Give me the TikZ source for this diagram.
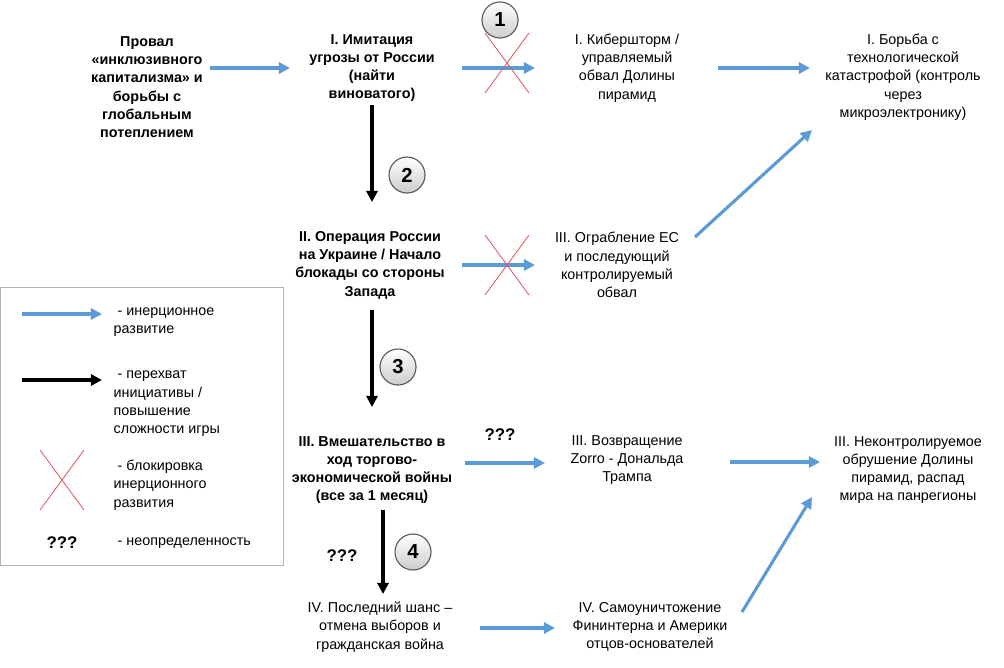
\documentclass[tikz,border=0pt]{standalone}
\usepackage{fontspec}
\setmainfont{Liberation Sans}
\usetikzlibrary{arrows.meta,calc}
\tikzset{
  txt/.style={align=center, font=\fontsize{10.2}{13}\selectfont, inner sep=1pt},
  bold/.style={txt, font=\fontsize{10.2}{13}\selectfont\bfseries},
  inert/.style={-{Triangle[length=8pt,width=8pt]}, line width=2.2pt, draw={rgb,255:red,91;green,155;blue,213}},
  initarrow/.style={-{Triangle[length=8pt,width=8pt]}, line width=2.6pt, draw=black},
  stepnum/.style={circle, draw=gray!70!black, thick, top color=white, bottom color=gray!40,
    minimum size=0.9cm, font=\Large\bfseries, inner sep=0pt},
  cross/.style={draw={rgb,255:red,220;green,90;blue,100}, line width=0.6pt},
  qq/.style={font=\large\bfseries},
  lgd/.style={align=left, anchor=west, font=\fontsize{10.2}{13}\selectfont, inner sep=1pt}
}
\newcommand{\blockx}[1]{\draw[cross] ($#1+(-22,-30)$) -- ($#1+(22,30)$);
  \draw[cross] ($#1+(-22,30)$) -- ($#1+(22,-30)$);}
\begin{document}
\begin{tikzpicture}[x=0.025cm,y=-0.025cm]
  \useasboundingbox (0,0) rectangle (1004,667);

  % main nodes
  \node[bold] (fail) at (147,87) {Провал\\«инклюзивного\\капитализма» и\\борьбы с\\глобальным\\потеплением};
  \node[bold] (imit) at (372,68) {I. Имитация\\угрозы от России\\(найти\\виноватого)};
  \node[txt] (cyber) at (627,68) {I. Кибершторм /\\управляемый\\обвал Долины\\пирамид};
  \node[txt] (tech) at (903,77) {I. Борьба с\\технологической\\катастрофой (контроль\\{}через\\микроэлектронику)};
  \node[bold] (oper) at (370,265) {II. Операция России\\на Украине / Начало\\блокады со стороны\\Запада};
  \node[txt] (rob) at (617,265) {III. Ограбление ЕС\\и последующий\\контролируемый\\обвал};
  \node[bold] (inter) at (372,470) {III. Вмешательство в\\ход торгово-\\экономической войны\\(все за 1 месяц)};
  \node[txt] (zorro) at (627,460) {III. Возвращение\\Zorro - Дональда\\Трампа};
  \node[txt] (uncon) at (908,470) {III. Неконтролируемое\\обрушение Долины\\пирамид, распад\\мира на панрегионы};
  \node[txt] (last) at (380,627) {IV. Последний шанс --\\отмена выборов и\\гражданская война};
  \node[txt] (self) at (650,627) {IV. Самоуничтожение\\Фининтерна и Америки\\отцов-основателей};

  % inertial development
  \draw[inert] (210,68) -- (290,68);
  \draw[inert] (462,68) -- (535,68);
  \draw[inert] (718,68) -- (810,68);
  \draw[inert] (462,265) -- (535,265);
  \draw[inert] (695,237) -- (812,130);
  \draw[inert] (465,463) -- (545,463);
  \draw[inert] (730,462) -- (820,462);
  \draw[inert] (480,628) -- (555,628);
  \draw[inert] (742,612) -- (812,497);

  % seizing initiative
  \draw[initarrow] (372,105) -- (372,202);
  \draw[initarrow] (372,310) -- (372,407);
  \draw[initarrow] (383,510) -- (383,594);

  % blocks
  \blockx{(507,63)}
  \blockx{(507,265)}

  % steps
  \node[stepnum] (s1) at (500,20) {1};
  \node[stepnum] (s2) at (407,175) {2};
  \node[stepnum] (s3) at (398,367) {3};
  \node[stepnum] (s4) at (413,552) {4};
  \node[qq] (q1) at (500,435) {???};
  \node[qq] (q2) at (342,556) {???};

  % legend
  \draw[gray!60] (0,287) rectangle (283,565);
  \draw[inert] (22,314) -- (102,314);
  \node[lgd] (l1) at (112,322) {\ - инерционное\\развитие};
  \draw[initarrow] (22,380) -- (102,380);
  \node[lgd] (l2) at (112,404) {\ - перехват\\инициативы /\\повышение\\сложности игры};
  \blockx{(62,480)}
  \node[lgd] (l3) at (112,485) {\ - блокировка\\инерционного\\развития};
  \node[qq] (l4q) at (62,543) {???};
  \node[lgd] (l4) at (112,543) {\ - неопределенность};
\end{tikzpicture}
\end{document}
